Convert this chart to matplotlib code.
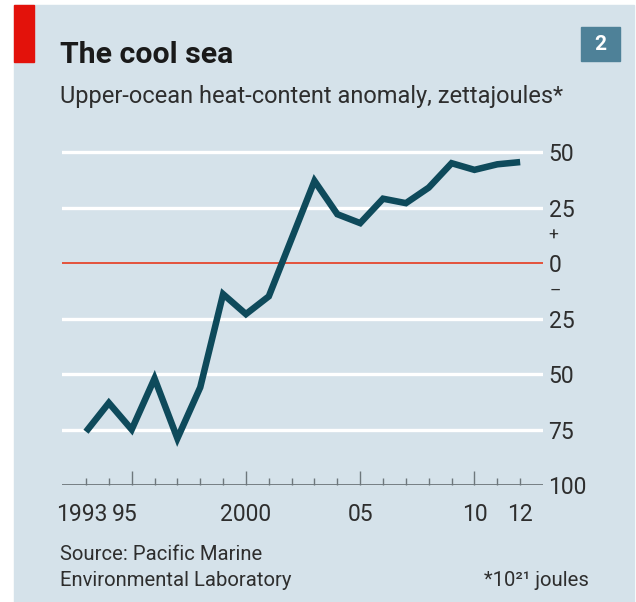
import matplotlib
matplotlib.use("Agg")
import matplotlib.pyplot as plt
import matplotlib.transforms as mtransforms
from matplotlib.patches import Rectangle

years = list(range(1993, 2013))
heat_anomaly = [-76, -63, -75, -52, -79, -56, -14, -23, -15, 11,
                37, 22, 18, 29, 27, 34, 45, 42, 44.5, 45.5]

grid_values = [50, 25, -25, -50, -75]
y_ticks = [50, 25, 0, -25, -50, -75, -100]
y_labels = ["50", "25", "0", "25", "50", "75", "100"]
x_ticks = [1993, 1995, 2000, 2005, 2010, 2012]
x_labels = ["1993", "95", "2000", "05", "10", "12"]

BG = "#d5e2ea"
LINE = "#0e4a5b"
TEXT = "#2e2e2e"
RED = "#e3120b"

plt.rcParams["font.family"] = ["Roboto", "DejaVu Sans"]

fig = plt.figure(figsize=(6.36, 6.02), dpi=100)
fig.patch.set_facecolor("white")

# background panel, red flag and the number box
fig.patches.append(Rectangle((14 / 636, 0), 620 / 636, 597 / 602,
                             transform=fig.transFigure, color=BG, zorder=-10))
fig.patches.append(Rectangle((14 / 636, 1 - 62 / 602), 20 / 636, 57 / 602,
                             transform=fig.transFigure, color=RED, zorder=-5))
fig.patches.append(Rectangle((581 / 636, 1 - 61 / 602), 39 / 636, 34 / 602,
                             transform=fig.transFigure, color="#4e8198", zorder=-5))
fig.text(600.5 / 636, 1 - 44 / 602, "2", color="white", fontsize=15,
         fontweight="bold", ha="center", va="center")

fig.text(60 / 636, 1 - 63 / 602, "The cool sea", fontsize=21.8, fontweight="bold",
         color="#1a1a1a", va="baseline")
fig.text(60 / 636, 1 - 103 / 602, "Upper-ocean heat-content anomaly, zettajoules*",
         fontsize=17, color=TEXT, va="baseline")

ax = fig.add_axes([62 / 636, 1 - 485 / 602, 481 / 636, 344 / 602])
ax.set_facecolor(BG)
ax.patch.set_alpha(0)
for s in ax.spines.values():
    s.set_visible(False)

for v in grid_values:
    ax.axhline(v, color="white", lw=2.4, zorder=1)
ax.axhline(0, color="#e4533c", lw=1.4, zorder=1)
ax.axhline(-100, color="#6e777c", lw=1.3, zorder=2)

ax.plot(years, heat_anomaly, color=LINE, lw=4.7, solid_joinstyle="miter",
        solid_capstyle="butt", zorder=3)

ax.set_xlim(1991.95, 2013.0)
ax.set_ylim(-100, 55)

# minor ticks every year, taller ones every five years
ax.set_xticks(years, minor=True)
ax.set_xticks(x_ticks, x_labels)
ax.tick_params(axis="x", which="minor", direction="in", length=5, width=1,
               color="#6e777c")
ax.tick_params(axis="x", which="major", direction="in", length=10, width=1,
               color="#6e777c", labelsize=16.5, labelcolor=TEXT, pad=13)
for lab, dx in zip(ax.get_xticklabels()[:2], [-4, -7]):
    lab.set_transform(lab.get_transform() +
                      mtransforms.ScaledTranslation(dx / 100, 0, fig.dpi_scale_trans))
# 1993 and 2012 carry only the short tick
ax.xaxis.get_major_ticks()[-1].tick1line.set_markersize(5)
ax.xaxis.get_major_ticks()[0].tick1line.set_markersize(5)

ax.yaxis.tick_right()
ax.set_yticks(y_ticks, y_labels)
ax.tick_params(axis="y", length=0, pad=4, labelsize=16.5, labelcolor=TEXT)
ax.text(1.012, 12.5, "+", transform=ax.get_yaxis_transform(), fontsize=12.5,
        color=TEXT, va="center", ha="left")
ax.text(1.014, -12.5, "\u2013", transform=ax.get_yaxis_transform(), fontsize=12.5,
        color=TEXT, va="center", ha="left")

fig.text(60 / 636, 1 - 560 / 602, "Source: Pacific Marine", fontsize=14.6,
         color=TEXT, va="baseline")
fig.text(60 / 636, 1 - 586 / 602, "Environmental Laboratory", fontsize=14.6,
         color=TEXT, va="baseline")
fig.text(589 / 636, 1 - 586 / 602, "*10\u00b2\u00b9 joules", fontsize=14.6,
         color=TEXT, va="baseline", ha="right")

fig.savefig("out.png", dpi=100, facecolor=fig.get_facecolor())
